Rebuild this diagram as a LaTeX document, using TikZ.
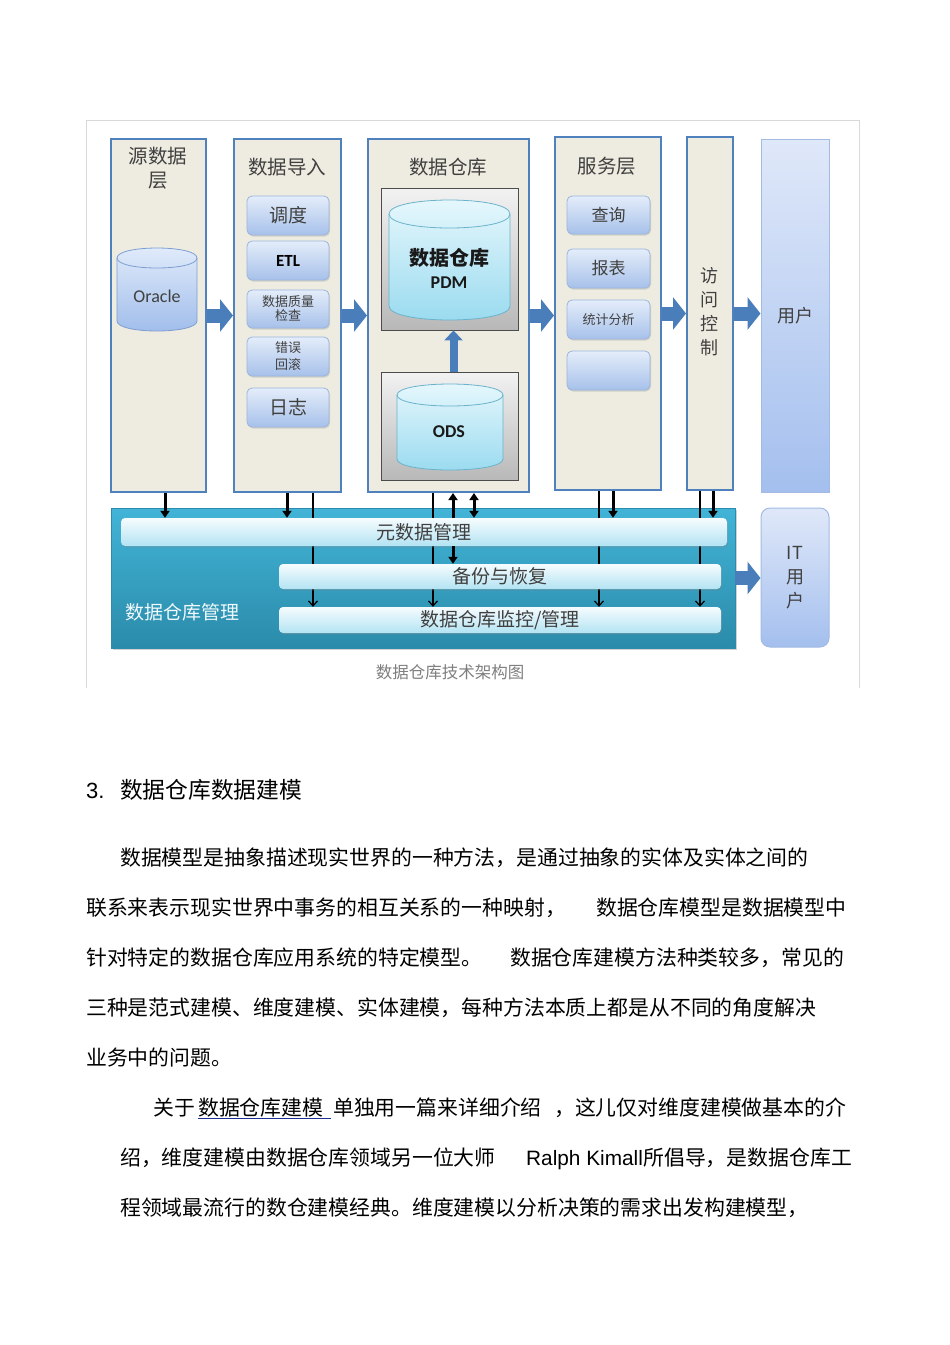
\documentclass[tikz,border=0pt]{standalone}
\usepackage{fontspec}
\setmainfont{Liberation Sans}
\newfontfamily\cjk{Noto Sans CJK SC}
\newfontfamily\calib{Carlito}
\usetikzlibrary{arrows.meta,calc,shadows}
\newcommand\fsz[2]{\fontsize{#1}{#2}\selectfont}
\pgfdeclarelayer{bg}
\pgfdeclarelayer{mid}
\pgfsetlayers{bg,mid,main}
\definecolor{colfill}{HTML}{EEECE1}
\definecolor{colline}{HTML}{4F81BD}
\definecolor{blkarrow}{HTML}{4A7EBB}
\definecolor{txtgray}{HTML}{404040}
\definecolor{boxtop}{HTML}{E4EDFA}
\definecolor{boxbot}{HTML}{A7C1EA}
\definecolor{boxline}{HTML}{9AB5DD}
\definecolor{cyltop}{HTML}{E2ECFB}
\definecolor{cylbot}{HTML}{9FBCEA}
\definecolor{cylline}{HTML}{7E9ED3}
\definecolor{cyantop}{HTML}{E8F8FD}
\definecolor{cyanbot}{HTML}{98DAEF}
\definecolor{cyanline}{HTML}{6BB3CB}
\definecolor{graytop}{HTML}{F2F2F2}
\definecolor{graybot}{HTML}{B8B8B8}
\definecolor{mgtop}{HTML}{42B4D7}
\definecolor{mgbot}{HTML}{2B8BAA}
\definecolor{bartop}{HTML}{F6FCFE}
\definecolor{barbot}{HTML}{B3E3F3}
\definecolor{usertop}{HTML}{DFE8F9}
\definecolor{userbot}{HTML}{A4BFEE}
\definecolor{userline}{HTML}{A3BBE3}
\definecolor{framegray}{HTML}{D9D9D9}
\definecolor{capgray}{HTML}{7F7F7F}
\definecolor{linkblue}{HTML}{1F2F8F}
\tikzset{
  colbox/.style={draw=colline, line width=2pt, fill=colfill, inner sep=0pt},
  ibox/.style={draw=boxline, line width=0.8pt, rounded corners=5pt, top color=boxtop, bottom color=boxbot,
    inner sep=0pt, text=txtgray, minimum width=82pt, align=center,
    drop shadow={shadow xshift=1pt, shadow yshift=-1.5pt, opacity=0.25}},
  graybox/.style={draw=black!70, line width=0.8pt, top color=graytop, bottom color=graybot, inner sep=0pt},
  cylo/.style={draw=cylline, line width=0.8pt, top color=cyltop, bottom color=cylbot},
  cylc/.style={draw=cyanline, line width=0.8pt, top color=cyantop, bottom color=cyanbot},
  userbox/.style={draw=userline, line width=1pt, top color=usertop, bottom color=userbot, inner sep=0pt, text=txtgray},
  mgbox/.style={top color=mgtop, bottom color=mgbot, draw=mgbot, inner sep=0pt,
    drop shadow={shadow xshift=2pt, shadow yshift=-2pt, opacity=0.35}},
  bar/.style={rounded corners=4pt, top color=bartop, bottom color=barbot, inner sep=0pt, text=txtgray,
    font=\cjk\fsz{19}{19}, drop shadow={shadow xshift=1pt, shadow yshift=-1.5pt, opacity=0.3}},
  title/.style={text=txtgray, font=\cjk\fsz{19.5}{24}, align=center, inner sep=0pt},
  blk/.style={line width=14pt, draw=blkarrow, -{Triangle[width=32pt,length=13pt]}},
  thk/.style={line width=3pt, -{Triangle[width=9pt,length=7pt]}},
  thkb/.style={line width=3pt, {Triangle[width=9pt,length=7pt]}-{Triangle[width=9pt,length=7pt]}},
  thn/.style={line width=1.2pt, -{Straight Barb[width=9pt,length=5pt]}},
  body/.style={anchor=base west, inner sep=0pt, font=\cjk\fsz{20.86}{25}}
}
\begin{document}
\begin{tikzpicture}[x=1pt,y=-1pt]
\useasboundingbox (0,0) rectangle (950,1345);
\begin{pgfonlayer}{bg}
\fill[white] (0,0) rectangle (950,1345);
\end{pgfonlayer}
% frame
\draw[framegray, line width=1pt] (86,688) -- (86,120.5) -- (859,120.5) -- (859,688);
% columns
\node[colbox, minimum width=95pt, minimum height=353pt] (c1) at (158.5,315.5) {};
\node[colbox, minimum width=107pt, minimum height=353pt] (c2) at (287.5,315.5) {};
\node[colbox, minimum width=161pt, minimum height=353pt] (c3) at (448.5,315.5) {};
\node[colbox, minimum width=106pt, minimum height=353pt] (c4) at (608,313.5) {};
\node[colbox, minimum width=46pt, minimum height=353pt] (c5) at (710,313.5) {};
\node[userbox, minimum width=68pt, minimum height=353pt, font=\cjk\fsz{18}{18}] (user) at (795,315.5) {用户};
% titles
\node[title] (t1) at (158,168) {源数据\\层};
\node[title] (t2) at (287,167) {数据导入};
\node[title] (t3) at (448,167) {数据仓库};
\node[title] (t4) at (607,166) {服务层};
\node[title, font=\cjk\fsz{18}{24}] (t5) at (709,312) {访\\问\\控\\制};
% oracle cylinder
\path[cylo] (117,258) -- (117,321) .. controls (117,334.33) and (197,334.33) .. (197,321) -- (197,258) .. controls (197,244.67) and (117,244.67) .. cycle;
\draw[cylline, line width=0.8pt] (117,258) .. controls (117,271.33) and (197,271.33) .. (197,258);
\node[font=\calib\fsz{18}{18}, text=txtgray, inner sep=0pt] (ora) at (157,296) {Oracle};
% import boxes
\node[ibox, minimum height=39pt, font=\cjk\fsz{19}{19}] (sched) at (288,215.5) {调度};
\node[ibox, minimum height=39pt, font=\calib\bfseries\fsz{17}{17}, text=black] (etl) at (288,260.5) {ETL};
\node[ibox, minimum height=38pt, font=\cjk\fsz{13}{14}] (dq) at (288,309) {数据质量\\检查};
\node[ibox, minimum height=39pt, font=\cjk\fsz{13}{17}] (err) at (288,356.5) {错误\\回滚};
\node[ibox, minimum height=39pt, font=\cjk\fsz{19}{19}] (log) at (288,407.5) {日志};
% warehouse
\node[graybox, minimum width=137pt, minimum height=142pt] (pdmbox) at (449.5,259) {};
\path[cylc] (389,214) -- (389,306) .. controls (389,324.67) and (510,324.67) .. (510,306) -- (510,214) .. controls (510,195.33) and (389,195.33) .. cycle;
\draw[cyanline, line width=0.8pt] (389,214) .. controls (389,232.67) and (510,232.67) .. (510,214);
\node[font=\cjk\bfseries\fsz{20}{20}, text=black!90, inner sep=0pt] (pdmt) at (449,258) {数据仓库};
\node[font=\calib\bfseries\fsz{18}{18}, text=black!90, inner sep=0pt] (pdm) at (449,283) {PDM};
\node[graybox, minimum width=137pt, minimum height=108pt] (odsbox) at (449.5,426) {};
\path[cylc] (397,395) -- (397,459) .. controls (397,473.67) and (503,473.67) .. (503,459) -- (503,395) .. controls (503,380.33) and (397,380.33) .. cycle;
\draw[cyanline, line width=0.8pt] (397,395) .. controls (397,409.67) and (503,409.67) .. (503,395);
\node[font=\calib\bfseries\fsz{18}{18}, text=black!90, inner sep=0pt] (ods) at (449,432) {ODS};
\draw[line width=8pt, draw=blkarrow, -{Triangle[width=18pt,length=10pt]}] ($(odsbox.north)+(4,0)$) -- ($(pdmbox.south)+(4,0)$);
% service boxes
\node[ibox, minimum width=83pt, minimum height=38pt, font=\cjk\fsz{17}{17}] (query) at (608.5,215) {查询};
\node[ibox, minimum width=83pt, minimum height=39pt, font=\cjk\fsz{17}{17}] (report) at (608.5,268.5) {报表};
\node[ibox, minimum width=83pt, minimum height=39pt, font=\cjk\fsz{13}{13}] (stat) at (608.5,319.5) {统计分析};
\node[ibox, minimum width=83pt, minimum height=39pt] (blank) at (608.5,370.5) {};
% block arrows
\draw[blk] (c1.east) -- (c2.west);
\draw[blk] (c2.east) -- (c3.west);
\draw[blk] (c3.east) -- (c3.east -| c4.west);
\draw[blk] (c4.east) -- (c5.west);
\draw[blk] (c5.east) -- (c5.east -| user.west);
% management
\begin{pgfonlayer}{bg}
\node[mgbox, minimum width=624pt, minimum height=140pt] (mgmt) at (423,578) {};
\end{pgfonlayer}
\node[bar, minimum width=606pt, minimum height=28pt] (meta) at (424,532) {元数据管理};
\node[bar, minimum width=442pt, minimum height=25pt] (backup) at (500,576.5) {备份与恢复};
\node[bar, minimum width=442pt, minimum height=26pt] (mon) at (500,620) {数据仓库监控/管理};
\node[text=white!92!mgtop, font=\cjk\fsz{19}{19}, inner sep=0pt] (mglabel) at (182,612) {数据仓库管理};
\begin{pgfonlayer}{mid}
\draw[thn] (313,0 |- c2.south) -- (313,0 |- mon.north);
\draw[thn] (433,0 |- c3.south) -- (433,0 |- mon.north);
\draw[thn] (599,0 |- c4.south) -- (599,0 |- mon.north);
\draw[thn] (700,0 |- c5.south) -- (700,0 |- mon.north);
\end{pgfonlayer}
\draw[thk] (165,0 |- c1.south) -- (165,0 |- meta.north);
\draw[thk] (287,0 |- c2.south) -- (287,0 |- meta.north);
\draw[thk] (453,0 |- meta.north) -- (453,0 |- c3.south);
\draw[thk] (453,0 |- meta.south) -- (453,0 |- backup.north);
\draw[thkb] (474,0 |- c3.south) -- (474,0 |- meta.north);
\draw[thk] (613,0 |- c4.south) -- (613,0 |- meta.north);
\draw[thk] (713,0 |- c5.south) -- (713,0 |- meta.north);
% IT users
\node[userbox, rounded corners=9pt, minimum width=68pt, minimum height=139pt, font=\cjk\fsz{18}{24}, align=center] (it) at (795,577.5) {IT\\用\\户};
\draw[blk] (mgmt.east) -- (mgmt.east -| it.west);
% caption
\node[text=capgray, font=\cjk\fsz{16.5}{16.5}, inner sep=0pt] (cap) at (450,672) {数据仓库技术架构图};
% body text
\node[anchor=base west, inner sep=0pt, font=\fsz{22}{22}] (h3n) at (86,798.5) {3.};
\node[anchor=base west, inner sep=0pt, font=\cjk\fsz{22.75}{22.75}] (h3) at (120,798.5) {数据仓库数据建模};
\node[body] (l1) at (120,865) {数据模型是抽象描述现实世界的一种方法，是通过抽象的实体及实体之间的};
\node[body] (l2a) at (86,915) {联系来表示现实世界中事务的相互关系的一种映射，};
\node[body] (l2b) at (596,915) {数据仓库模型是数据模型中};
\node[body] (l3a) at (86,965) {针对特定的数据仓库应用系统的特定模型。};
\node[body] (l3b) at (510,965) {数据仓库建模方法种类较多，常见的};
\node[body] (l4) at (86,1015) {三种是范式建模、维度建模、实体建模，每种方法本质上都是从不同的角度解决};
\node[body] (l5) at (86,1065) {业务中的问题。};
\node[body] (l6a) at (153,1115) {关于};
\node[body] (l6b) at (198,1115) {数据仓库建模};
\node[body] (l6c) at (333,1115) {单独用一篇来详细介绍};
\node[body] (l6d) at (554,1115) {，这儿仅对维度建模做基本的介};
\draw[linkblue, line width=0.9pt] ($(l6b.base west)+(0,3)$) -- ($(l6b.base east)+(7,3)$);
\node[body] (l7a) at (120,1165) {绍，维度建模由数据仓库领域另一位大师};
\node[body, font=\fsz{20.8}{25}] (l7b) at (526,1165) {Ralph Kimall};
\node[body] (l7c) at (l7b.base east) {所倡导，是数据仓库工};
\node[body] (l8) at (120,1215) {程领域最流行的数仓建模经典。维度建模以分析决策的需求出发构建模型，};
\end{tikzpicture}
\end{document}
